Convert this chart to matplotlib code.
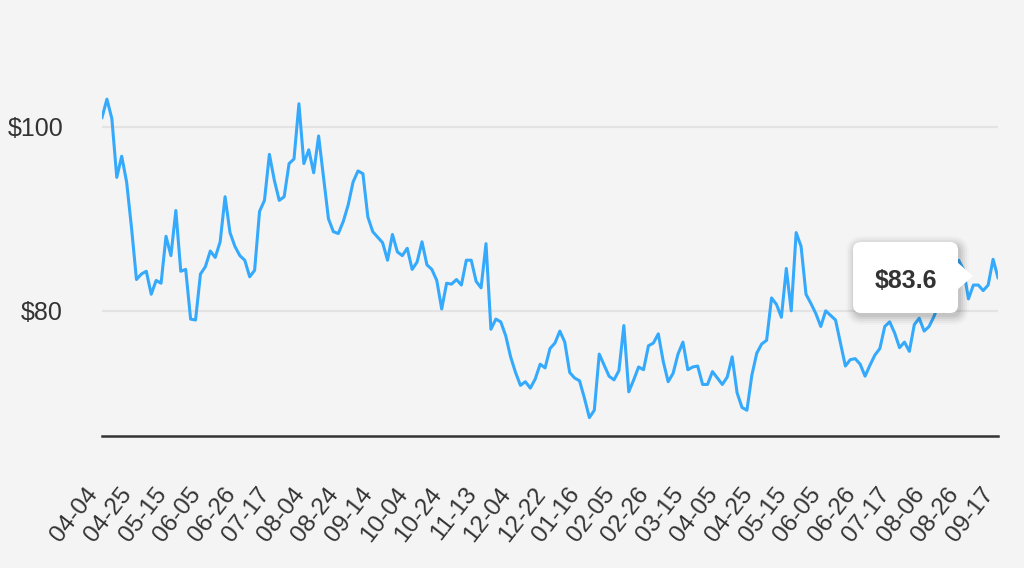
import matplotlib
matplotlib.use("Agg")
import matplotlib.pyplot as plt
import matplotlib.patches as mpatches
from matplotlib.transforms import IdentityTransform
import numpy as np

plt.rcParams['font.family'] = ['Liberation Sans', 'DejaVu Sans']

# price, one value per two trading days
prices = [
    101.0, 103.0, 100.9, 94.5, 96.8, 94.0, 89.0, 83.4, 84.0, 84.3,
    81.8, 83.3, 83.0, 88.1, 86.0, 90.9, 84.3, 84.5, 79.1, 79.0,
    84.0, 84.8, 86.5, 85.8, 87.5, 92.4, 88.5, 87.0, 86.0, 85.5,
    83.7, 84.4, 90.8, 92.0, 97.0, 94.2, 92.0, 92.4, 96.0, 96.5,
    102.5, 96.0, 97.5, 95.0, 99.0, 94.5, 90.0, 88.6, 88.4, 89.7,
    91.5, 94.0, 95.2, 94.9, 90.2, 88.6, 88.0, 87.4, 85.5, 88.3,
    86.4, 86.0, 86.8, 84.5, 85.3, 87.5, 85.0, 84.5, 83.3, 80.2,
    83.0, 82.9, 83.4, 82.8, 85.5, 85.5, 83.2, 82.5, 87.3, 78.0,
    79.1, 78.8, 77.3, 75.0, 73.3, 71.9, 72.3, 71.6, 72.6, 74.2,
    73.8, 75.9, 76.5, 77.8, 76.6, 73.3, 72.7, 72.4, 70.5, 68.4,
    69.2, 75.3, 74.1, 72.9, 72.5, 73.5, 78.4, 71.2, 72.5, 73.9,
    73.6, 76.2, 76.5, 77.5, 74.5, 72.3, 73.2, 75.3, 76.6, 73.6,
    73.9, 74.0, 72.0, 72.0, 73.4, 72.7, 72.0, 72.8, 75.0, 71.1,
    69.5, 69.2, 73.0, 75.4, 76.4, 76.8, 81.4, 80.7, 79.3, 84.6,
    80.0, 88.5, 87.0, 81.8, 80.8, 79.7, 78.3, 80.0, 79.5, 79.0,
    76.5, 74.0, 74.7, 74.8, 74.2, 72.9, 74.1, 75.2, 75.9, 78.3,
    78.8, 77.6, 76.0, 76.6, 75.6, 78.5, 79.2, 77.8, 78.3, 79.4,
    80.8, 79.9, 80.3, 81.5, 85.5, 84.5, 81.3, 82.8, 82.8, 82.2,
    82.8, 85.6, 83.6,
]

tick_labels = [
    '04-04', '04-25', '05-15', '06-05', '06-26', '07-17', '08-04', '08-24',
    '09-14', '10-04', '10-24', '11-13', '12-04', '12-22', '01-16', '02-05',
    '02-26', '03-15', '04-05', '04-25', '05-15', '06-05', '06-26', '07-17',
    '08-06', '08-26', '09-17',
]
y_ticks = [80, 100]
y_labels = ['$80', '$100']
last_label = '$83.6'

bg = '#f4f4f4'
W, H = 1024, 568
fig = plt.figure(figsize=(W / 100, H / 100), dpi=100, facecolor=bg)
ax = fig.add_axes([102 / W, 1 - 436 / H, 896 / W, 416 / H], facecolor=bg)

x = np.arange(len(prices))
ax.plot(x, prices, color='#35aafc', lw=2.2, solid_joinstyle='round', zorder=3)

ax.set_xlim(0, len(prices) - 1)
ax.set_ylim(66.4, 111.6)

step = (len(prices) - 1) // (len(tick_labels) - 1)
ax.set_xticks(x[::step])
ax.set_xticklabels(tick_labels, rotation=52, ha='right', fontsize=17.5, color='#333333')
ax.set_yticks(y_ticks)
ax.set_yticklabels(y_labels, fontsize=18, color='#333333')
ax.tick_params(axis='x', length=0, pad=34)
ax.tick_params(axis='y', length=0, pad=28)

ax.grid(axis='y', color='#e3e3e3', lw=1.6)
ax.set_axisbelow(True)
for s in ['top', 'right', 'left']:
    ax.spines[s].set_visible(False)
ax.spines['bottom'].set_color('#333333')
ax.spines['bottom'].set_linewidth(1.8)

# tooltip (pixel coords, origin bottom-left)
bx0, bx1 = 853, 958
by0, by1 = H - 313, H - 242
tr = IdentityTransform()
for i, a in enumerate([0.06, 0.05, 0.04, 0.03, 0.02]):
    g = 1 + i * 2
    sh = mpatches.FancyBboxPatch((bx0 - g + 2, by0 - g - 3), bx1 - bx0 + 2 * g, by1 - by0 + 2 * g,
                                 boxstyle='round,pad=0,rounding_size=%d' % (8 + g),
                                 transform=tr, facecolor='black', edgecolor='none',
                                 alpha=a, zorder=5)
    fig.patches.append(sh)
box = mpatches.FancyBboxPatch((bx0, by0), bx1 - bx0, by1 - by0,
                              boxstyle='round,pad=0,rounding_size=8',
                              transform=tr, facecolor='white', edgecolor='none', zorder=6)
fig.patches.append(box)
tri = mpatches.Polygon([(bx1 - 1, H - 262), (973, H - 276), (bx1 - 1, H - 290)],
                       closed=True, transform=tr, facecolor='white', edgecolor='none', zorder=6)
fig.patches.append(tri)
fig.text((bx0 + bx1) / 2 / W, 1 - 281 / H, last_label, ha='center', va='center',
         fontsize=18, fontweight='bold', color='#333333', zorder=7)

fig.savefig('out.png', dpi=100, facecolor=bg)
